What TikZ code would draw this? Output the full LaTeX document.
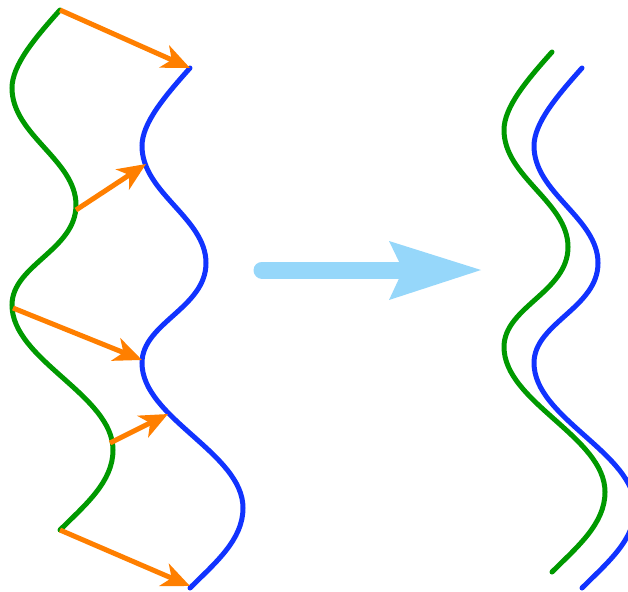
\documentclass[tikz,border=0pt]{standalone}
\usetikzlibrary{arrows.meta}
\definecolor{wgreen}{RGB}{0,153,0}
\definecolor{wblue}{RGB}{17,51,255}
\definecolor{worange}{RGB}{255,127,0}
\definecolor{wsky}{RGB}{150,215,250}
\newcommand\wavecurve[2]{%
 \draw[#1,shift={#2}] (0,0) .. controls (-25,28) and (-48,55) .. (-48,78)
   .. controls (-48,125) and (16,150) .. (16,195)
   .. controls (16,240) and (-48,255) .. (-48,295)
   .. controls (-48,350) and (53,385) .. (53,440)
   .. controls (53,472) and (25,495) .. (0,520);}
\tikzset{
  gcurve/.style={wgreen,line width=5pt,line cap=round},
  bcurve/.style={wblue,line width=5pt,line cap=round},
  oarrow/.style={worange,line width=5pt,-{Stealth[length=28pt,width=24pt,inset=8pt]}},
}
\begin{document}
\begin{tikzpicture}[x=1pt,y=-1pt]
\useasboundingbox (0,0) rectangle (628,591);
\clip (0,0) rectangle (628,591);
% left curves
\wavecurve{gcurve}{(60,10)}
\wavecurve{bcurve}{(190,68)}
% right curves
\wavecurve{gcurve}{(552,52)}
\wavecurve{bcurve}{(582,68)}
% arrow endpoints
\coordinate (g1) at (60,10);
\coordinate (b1) at (190,68);
\coordinate (g2) at (76,210);
\coordinate (b2) at (146,164);
\coordinate (g3) at (13,308);
\coordinate (b3) at (142,360);
\coordinate (g4) at (110,443);
\coordinate (b4) at (168,414);
\coordinate (g5) at (60,530);
\coordinate (b5) at (190,586);
\draw[oarrow] (g1) -- (b1);
\draw[oarrow] (g2) -- (b2);
\draw[oarrow] (g3) -- (b3);
\draw[oarrow] (g4) -- (b4);
\draw[oarrow] (g5) -- (b5);
% big arrow
\coordinate (s) at (262,270);
\coordinate (t) at (481,270);
\draw[wsky,line width=17pt,line cap=round] (s) -- (404,270);
\fill[wsky] (t) -- (389,241) -- (403,270) -- (389,300) -- cycle;
\end{tikzpicture}
\end{document}
